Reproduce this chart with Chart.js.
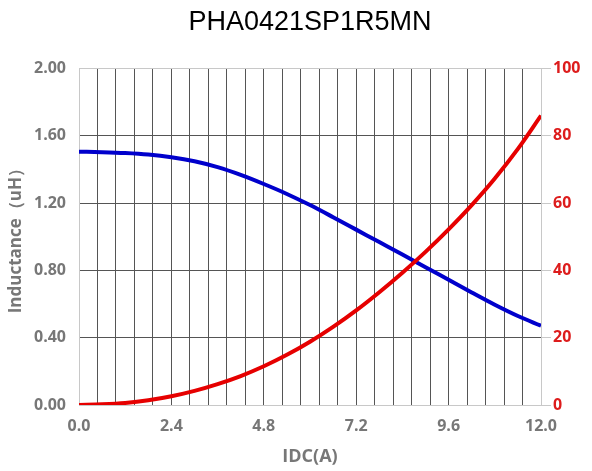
<!DOCTYPE html>
<html>
<head>
<meta charset="utf-8">
<script src="https://cdn.jsdelivr.net/npm/chart.js@4"></script>
<style>
html,body{margin:0;padding:0;background:#fff;}
#wrap{width:592px;height:471px;}
</style>
</head>
<body>
<div id="wrap"><canvas id="c" width="592" height="471"></canvas></div>
<script>
const idc = [0, 0.6, 1.2, 1.8, 2.4, 3.0, 3.6, 4.2, 4.8, 5.4, 6.0, 6.6, 7.2, 7.8, 8.4, 9.0, 9.6, 10.2, 10.8, 11.4, 12.0];
const inductance = [1.505, 1.502, 1.497, 1.488, 1.472, 1.448, 1.413, 1.367, 1.313, 1.254, 1.188, 1.116, 1.042, 0.968, 0.894, 0.819, 0.744, 0.669, 0.596, 0.529, 0.471];
const tempRise = [0, 0.2, 0.6, 1.4, 2.6, 4.2, 6.2, 8.6, 11.5, 14.9, 18.8, 23.2, 28.1, 33.5, 39.3, 45.5, 52.2, 59.4, 67.3, 76.1, 86.0];
const xTickStep = 0.48;
const leftTickStep = 0.4;
const rightTickStep = 20;
const chartTitle = 'PHA0421SP1R5MN';
const xTitle = 'IDC(A)';
const yTitle = 'Inductance（uH）';

const dark = '#555555';
const light = '#c8c8c8';
const grayText = '#777777';
const tickFont = {family: '"Open Sans", sans-serif', size: 16, weight: 'bold'};

new Chart(document.getElementById('c'), {
  type: 'line',
  data: {
    datasets: [
      {
        data: idc.map((x, i) => ({x, y: tempRise[i]})),
        yAxisID: 'y2', borderColor: '#e60000', borderWidth: 4,
        pointRadius: 0, tension: 0.4, cubicInterpolationMode: 'monotone', order: 0
      },
      {
        data: idc.map((x, i) => ({x, y: inductance[i]})),
        yAxisID: 'y', borderColor: '#0000cc', borderWidth: 4,
        pointRadius: 0, tension: 0.4, cubicInterpolationMode: 'monotone', order: 1
      }
    ]
  },
  options: {
    responsive: false,
    animation: false,
    events: [],
    layout: {padding: 0},
    plugins: {
      legend: {display: false},
      tooltip: {enabled: false},
      title: {
        display: true, text: chartTitle, color: '#000', fullSize: false,
        font: {family: '"Liberation Sans", Arial, sans-serif', size: 27, weight: 'normal'},
        padding: {top: 6, bottom: 30}
      }
    },
    scales: {
      x: {
        type: 'linear', min: 0, max: 12,
        afterFit: s => { s.height = 66; },
        ticks: {
          stepSize: xTickStep, autoSkip: false, maxRotation: 0, color: grayText, font: tickFont, padding: 12,
          callback: (v, i) => (i % 5 === 0 ? Number(v).toFixed(1) : '')
        },
        grid: {
          color: ctx => (ctx.index === 0 || ctx.index === 25 ? light : dark),
          lineWidth: 1, drawTicks: false
        },
        border: {color: light},
        title: {display: true, text: xTitle, color: grayText, font: {family: '"Open Sans", sans-serif', size: 18, weight: 'bold'}, padding: {top: 0, bottom: 3}}
      },
      y: {
        position: 'left', min: 0, max: 2,
        afterFit: s => { s.width = 79; },
        ticks: {stepSize: leftTickStep, color: grayText, font: tickFont, padding: 13, callback: v => Number(v).toFixed(2)},
        grid: {
          color: ctx => (ctx.tick && (ctx.tick.value === 2) ? light : dark),
          lineWidth: 1, drawTicks: false
        },
        border: {color: light},
        title: {display: true, text: yTitle, color: grayText, font: {family: '"Open Sans", sans-serif', size: 17, weight: 'bold'}, padding: {top: 6, bottom: 0}}
      },
      y2: {
        position: 'right', min: 0, max: 100,
        afterFit: s => { s.width = 51; },
        ticks: {stepSize: rightTickStep, color: '#dd1c1c', font: tickFont, padding: 2},
        grid: {drawOnChartArea: false, color: light, drawTicks: true, tickLength: 10},
        border: {color: light}
      }
    }
  }
});
</script>
</body>
</html>
